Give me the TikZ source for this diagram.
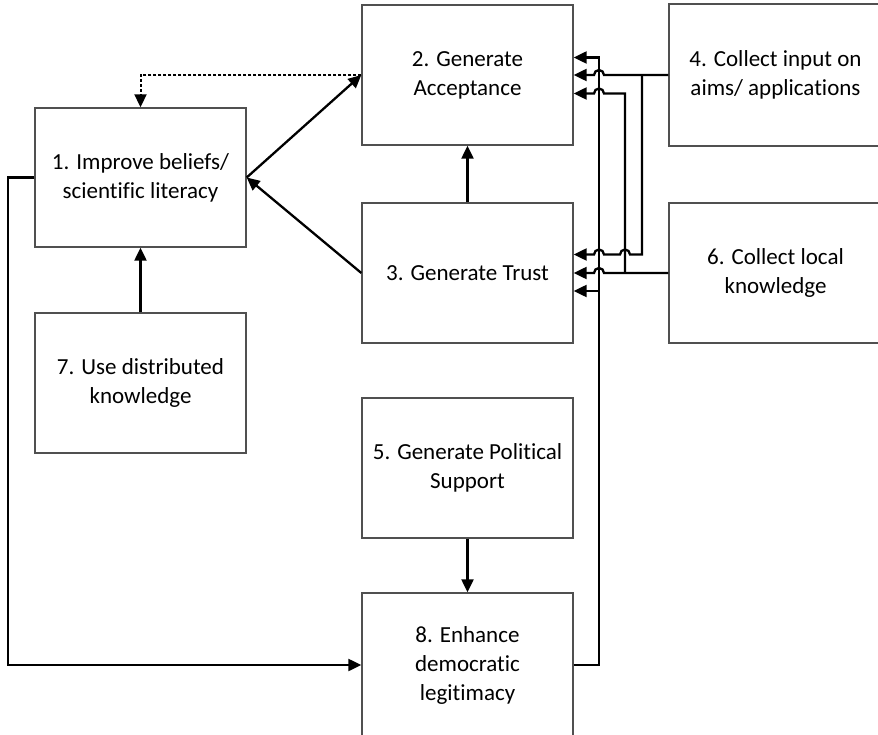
\documentclass[tikz,border=0pt]{standalone}
\usepackage{fontspec}
\setmainfont[Ligatures=NoCommon]{Carlito}
\usetikzlibrary{arrows.meta,calc}
\definecolor{boxgray}{RGB}{80,80,80}
\begin{document}
\begin{tikzpicture}[x=1pt,y=1pt,
  box/.style={draw=boxgray,line width=1.4pt,minimum width=211pt,align=center,
    font=\fontsize{23}{29}\selectfont,inner sep=0pt},
  conn/.style={line width=2.3pt,black},
  tip/.style={-{Triangle[length=13pt,width=12pt]}}]
\clip (0,0) rectangle (878,-735);
\fill[white] (0,0) rectangle (878,-735);
\node[box,minimum height=139pt] (b1) at (140.5,-177.5) {1. Improve beliefs/\\scientific literacy};
\node[box,minimum height=140pt] (b2) at (467.5,-75) {2. Generate\\Acceptance};
\node[box,minimum height=140pt] (b3) at (467.5,-273) {3. Generate Trust};
\node[box,minimum height=142pt,minimum width=213pt] (b4) at (775.5,-75) {4. Collect input on\\aims/ applications};
\node[box,minimum height=140pt,minimum width=213pt] (b6) at (775.5,-273) {6. Collect local\\knowledge};
\node[box,minimum height=140pt] (b7) at (140.5,-383) {7. Use distributed\\knowledge};
\node[box,minimum height=140pt] (b5) at (467.5,-468) {5. Generate Political\\Support};
\node[box,minimum height=144pt] (b8) at (467.5,-665) {8. Enhance\\democratic\\legitimacy};
% named end points
\coordinate (p2a) at ($(b2.east)+(0,17.5)$);
\coordinate (p2c) at ($(b2.east)+(0,-18.5)$);
\coordinate (p3a) at ($(b3.east)+(0,18.5)$);
\coordinate (p3c) at ($(b3.east)+(0,-18)$);
\coordinate (lft) at (8,-177.5);
% simple arrows
\draw[conn,tip] (b7.north) -- (b1.south);
\draw[conn,tip] (b3.north) -- (b2.south);
\draw[conn,tip] (b5.south) -- (b8.north);
\draw[conn,tip] (b1.east) -- (b2.west);
\draw[conn,tip] (b3.west) -- (b1.east);
\draw[conn,tip,dash pattern=on 3pt off 2pt,line width=2pt] (b2.west) -| (b1.north);
\draw[conn,tip] (b1.west) -- (lft) |- (b8.west);
% box 8 feedback
\draw[conn,tip] (b8.east) -| (599,-57.5) -- (p2a);
\draw[conn,tip] (599,-291) -- (p3c);
% box 4
\draw[conn,tip] (b4.west) -- (604,-75) arc[start angle=0,end angle=180,radius=5pt] -- (b2.east);
\draw[conn,tip] (642,-75) -- (642,-254.5) -- (630,-254.5) arc[start angle=0,end angle=180,radius=5pt]
  -- (604,-254.5) arc[start angle=0,end angle=180,radius=5pt] -- (p3a);
% box 6
\draw[conn,tip] (b6.west) -- (604,-273) arc[start angle=0,end angle=180,radius=5pt] -- (b3.east);
\draw[conn,tip] (625,-273) -- (625,-93.5) -- (604,-93.5) arc[start angle=0,end angle=180,radius=5pt] -- (p2c);
\end{tikzpicture}
\end{document}
